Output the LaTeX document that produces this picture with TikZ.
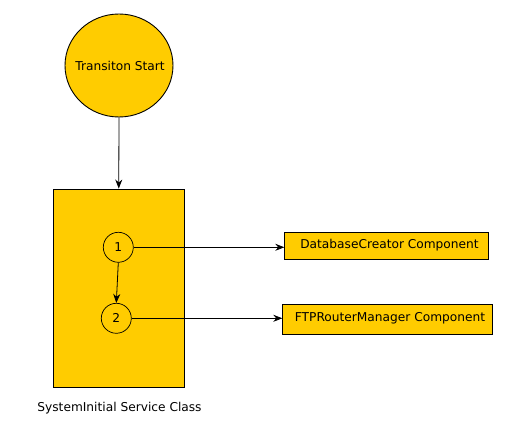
\documentclass[tikz,border=0pt]{standalone}
\usepackage{fontspec}
\setmainfont{DejaVu Sans}
\usetikzlibrary{arrows.meta,shapes.geometric}
\definecolor{fillyel}{HTML}{FFCC00}
\begin{document}
\begin{tikzpicture}[x=1pt,y=-1pt,
  every node/.style={font=\fontsize{12.2}{14}\selectfont},
  shape fill/.style={draw=black, fill=fillyel, line width=0.9pt},
  conn/.style={draw=black, line width=0.8pt, -{Stealth[length=9pt,width=7pt]}},
  compbox/.style={shape fill, rectangle, inner sep=0pt, anchor=north west}]
\useasboundingbox (0,0) rectangle (507,438);
\node[shape fill, ellipse, minimum width=108pt, minimum height=103pt, inner sep=0pt] (start) at (119,65.5) {};
\node at (120,66) {Transiton Start};
\node[shape fill, rectangle, minimum width=131pt, minimum height=198pt, inner sep=0pt] (sys) at (118.75,288) {};
\node[shape fill, circle, minimum size=30pt, inner sep=0pt, line width=0.7pt] (c1) at (118.3,247.3) {1};
\node[shape fill, circle, minimum size=30pt, inner sep=0pt, line width=0.7pt] (c2) at (116.3,318.3) {2};
\node[compbox, minimum width=204pt, minimum height=27pt] (db) at (284.3,232.3) {};
\node at (389.5,245.5) {DatabaseCreator Component};
\node[compbox, minimum width=210pt, minimum height=30pt] (ftp) at (282.3,303.7) {};
\node at (390,318.5) {FTPRouterManager Component};
\node (lbl) at (119.5,408) {SystemInitial Service Class};
\draw[conn] (start.south) -- (sys.north);
\draw[conn] (c1.south) -- (c2.north);
\draw[conn] (c1.east) -- (c1.east -| db.west);
\draw[conn] (c2.east) -- (c2.east -| ftp.west);
\end{tikzpicture}
\end{document}
